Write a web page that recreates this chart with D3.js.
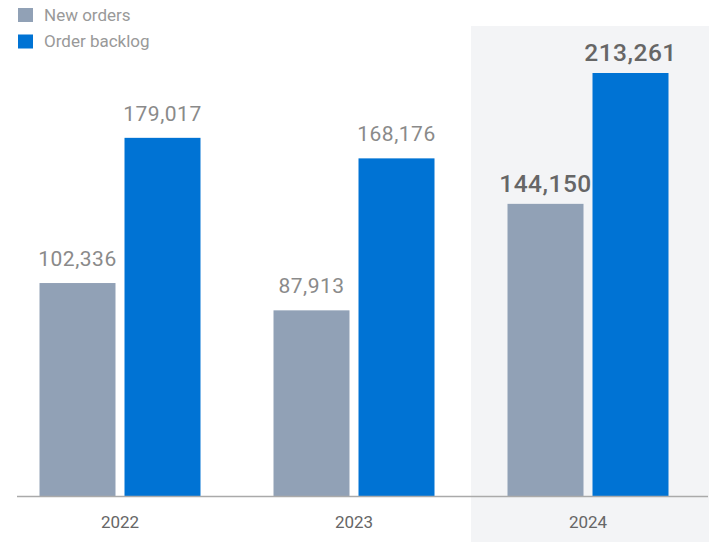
<!DOCTYPE html>
<html>
<head>
<meta charset="utf-8">
<script src="https://cdn.jsdelivr.net/npm/d3@7"></script>
<style>
  html, body { margin: 0; padding: 0; background: #fff; }
  svg { display: block; font-family: Roboto, "DejaVu Sans", sans-serif; }
</style>
</head>
<body>
<div id="chart"></div>
<script>
const years = ["2022", "2023", "2024"];
const seriesNames = ["New orders", "Order backlog"];
const newOrders = [102336, 87913, 144150];
const orderBacklog = [179017, 168176, 213261];
const highlightYear = "2024";

const WIDTH = 709;
const HEIGHT = 542;
const BASELINE = 496.5;
const GRAY = "#91a1b6";
const BLUE = "#0073d4";
const COLORS = [GRAY, BLUE];

const svg = d3.select("#chart")
  .append("svg")
  .attr("width", WIDTH)
  .attr("height", HEIGHT);

// Scales
const x0 = d3.scaleBand()
  .domain(years)
  .range([3, 705]);

const x1 = d3.scaleBand()
  .domain(seriesNames)
  .range([36.5, 197.5])
  .paddingInner(0.106);

const yScale = d3.scaleLinear()
  .domain([-10400, 213261])
  .range([BASELINE, 73]);

// Highlight band for latest year
svg.append("rect")
  .attr("x", x0(highlightYear))
  .attr("y", 26)
  .attr("width", WIDTH - x0(highlightYear))
  .attr("height", HEIGHT - 26)
  .attr("fill", "#f3f4f6");

// Bars
const rows = years.map((y, i) => ({
  year: y,
  values: [newOrders[i], orderBacklog[i]]
}));

const groups = svg.selectAll("g.year")
  .data(rows)
  .enter()
  .append("g")
  .attr("class", "year")
  .attr("transform", d => "translate(" + x0(d.year) + ",0)");

groups.selectAll("rect")
  .data(d => d.values.map((v, j) => ({ name: seriesNames[j], value: v, year: d.year, j: j })))
  .enter()
  .append("rect")
  .attr("x", d => x1(d.name))
  .attr("y", d => yScale(d.value))
  .attr("width", x1.bandwidth())
  .attr("height", d => BASELINE - yScale(d.value))
  .attr("fill", d => COLORS[d.j]);

// Value labels
groups.selectAll("text.value")
  .data(d => d.values.map((v, j) => ({ name: seriesNames[j], value: v, year: d.year })))
  .enter()
  .append("text")
  .attr("class", "value")
  .attr("x", d => x1(d.name) + x1.bandwidth() / 2)
  .attr("y", d => yScale(d.value) - (d.year === highlightYear ? 12 : 17))
  .attr("text-anchor", "middle")
  .attr("font-size", d => d.year === highlightYear ? "24.5px" : "21px")
  .attr("font-weight", d => d.year === highlightYear ? "500" : "normal")
  .attr("letter-spacing", "0.5px")
  .attr("fill", d => d.year === highlightYear ? "#666" : "#8a8a8a")
  .text(d => d3.format(",")(d.value));

// Baseline
svg.append("line")
  .attr("x1", 17)
  .attr("x2", 708)
  .attr("y1", BASELINE)
  .attr("y2", BASELINE)
  .attr("stroke", "#aaa")
  .attr("stroke-width", 1.5);

// Year axis labels
const xAxis = d3.axisBottom(x0).tickSize(0).tickPadding(0);
const axisG = svg.append("g")
  .attr("transform", "translate(0," + BASELINE + ")")
  .call(xAxis);
axisG.select(".domain").remove();
axisG.selectAll("text")
  .attr("dy", null)
  .attr("y", 31.5)
  .attr("font-family", "Roboto, sans-serif")
  .attr("font-size", "17px")
  .attr("fill", "#666");

// Legend
const legend = svg.append("g")
  .attr("id", "legend")
  .attr("transform", "translate(18,8)");

legend.selectAll("rect")
  .data(seriesNames)
  .enter()
  .append("rect")
  .attr("x", 0)
  .attr("y", (d, i) => i * 26.5)
  .attr("width", 15)
  .attr("height", 14)
  .attr("fill", (d, i) => COLORS[i]);

legend.selectAll("text")
  .data(seriesNames)
  .enter()
  .append("text")
  .attr("x", 26)
  .attr("y", (d, i) => 12.5 + i * 26.5)
  .attr("font-size", "17px")
  .attr("fill", "#999")
  .text(d => d);
</script>
</body>
</html>
